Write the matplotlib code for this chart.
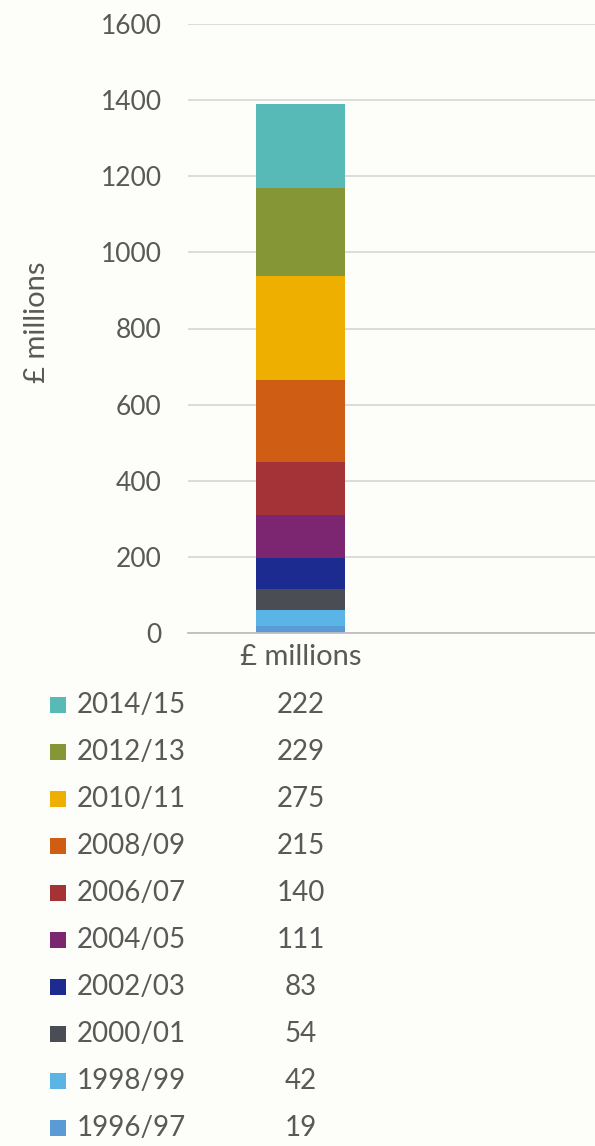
import matplotlib.pyplot as plt

years = ['1996/97', '1998/99', '2000/01', '2002/03', '2004/05',
         '2006/07', '2008/09', '2010/11', '2012/13', '2014/15']
values = [19, 42, 54, 83, 111, 140, 215, 275, 229, 222]
colors = ['#5b9bd5', '#5ab4e6', '#4a4d54', '#1c2b8f', '#7c2570',
          '#a33337', '#cf5d14', '#eeaf00', '#849635', '#57bab6']
yticks = [0, 200, 400, 600, 800, 1000, 1200, 1400, 1600]
category = '£ millions'

plt.rcParams['font.family'] = ['Lato', 'DejaVu Sans']
txt = '#595959'
bg = '#fdfdf9'

W, H = 595, 1146
fig = plt.figure(figsize=(W / 100, H / 100), dpi=100, facecolor=bg)

# main stacked bar
ax = fig.add_axes([188 / W, 1 - 633 / H, 407 / W, 609 / H], facecolor=bg)
bottom = 0
for y, v, c in zip(years, values, colors):
    ax.bar(0, v, width=1, bottom=bottom, color=c, label=y)
    bottom += v
ax.set_ylim(0, 1600)
ax.set_xlim(-1.264, 3.31)
ax.set_yticks(yticks)
ax.set_yticklabels([str(t) for t in yticks], fontsize=19, color=txt)
ax.tick_params(axis='y', length=0, pad=19)
ax.tick_params(axis='x', length=0, pad=8)
ax.set_xticks([0])
ax.set_xticklabels([category], fontsize=21, color=txt)
ax.grid(axis='y', color='#d9d9d9', linewidth=1.3)
ax.set_axisbelow(True)
for s in ['top', 'right', 'left']:
    ax.spines[s].set_visible(False)
ax.spines['bottom'].set_color('#bfbfbf')
ax.spines['bottom'].set_linewidth(1.3)
fig.text(37 / W, 1 - 322 / H, category, rotation=90, fontsize=21,
         color=txt, ha='center', va='center')

# data table below
tab = fig.add_axes([0, 1 - 1151.5 / H, 1, 470 / H], facecolor='none')
tab.set_xlim(0, W)
tab.set_ylim(9.5, -0.5)
tab.axis('off')
for i, (y, v, c) in enumerate(zip(years[::-1], values[::-1], colors[::-1])):
    tab.scatter(58, i, marker='s', s=125, color=c, edgecolors='none')
    tab.text(77, i, y, fontsize=20, color=txt, va='center', ha='left')
    tab.text(301, i, str(v), fontsize=20, color=txt, va='center', ha='center')

fig.savefig('out.png', dpi=100, facecolor=bg)
